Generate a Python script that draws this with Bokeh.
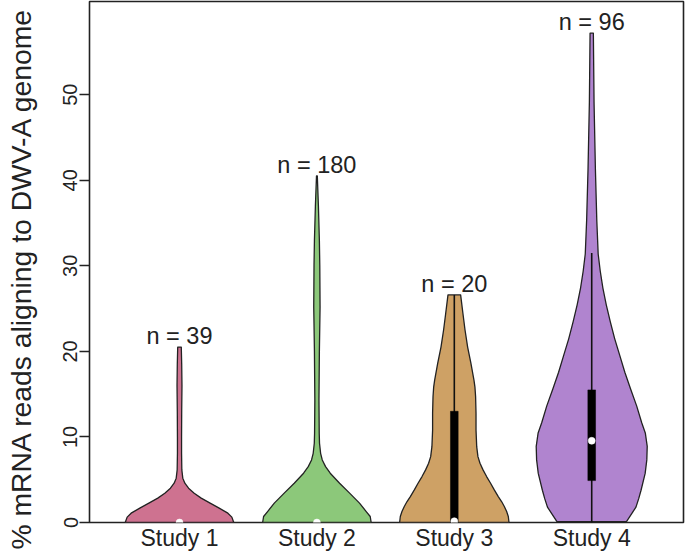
from bokeh.plotting import figure
from bokeh.models import Range1d, FixedTicker, ColumnDataSource, Title
from bokeh.core.properties import value
from bokeh.embed import file_html
from bokeh.resources import INLINE

# ---------------- data ----------------
categories = ["Study 1", "Study 2", "Study 3", "Study 4"]
counts = [39, 180, 20, 96]
colors = ["#CE7290", "#8CC87A", "#CEA165", "#B084CF"]

# violin outlines: density half-widths (x units) at levels of % reads
s1_levels = [0.0, 0.63, 1.09, 1.68, 2.26, 2.85, 3.43, 4.01, 4.6, 5.18, 6.15, 8.1, 10.0, 13.0, 16.0, 18.5, 20.5]
s1_half = [0.395, 0.381, 0.352, 0.289, 0.223, 0.158, 0.107, 0.066, 0.039, 0.024, 0.017, 0.015, 0.015, 0.016, 0.018, 0.016, 0.013]

s2_levels = [0.0, 0.7, 1.28, 2.26, 3.43, 4.59, 5.76, 6.53, 7.31, 8.09, 9.26, 10.4, 14.3, 20.0, 25.2, 30.0, 33.0, 37.0, 40.5]
s2_half = [0.395, 0.388, 0.359, 0.31, 0.238, 0.165, 0.097, 0.063, 0.039, 0.027, 0.019, 0.017, 0.015, 0.018, 0.023, 0.021, 0.018, 0.011, 0.003]

s3_levels = [0.0, 0.7, 1.28, 1.87, 2.45, 3.03, 3.81, 4.59, 5.37, 6.15, 6.92, 7.7, 8.86, 10.8, 12.76, 14.7, 15.86,
             16.64, 18.6, 20.5, 22.5, 24.4, 26.6]
s3_half = [0.398, 0.393, 0.381, 0.364, 0.344, 0.32, 0.291, 0.264, 0.235, 0.209, 0.187, 0.172, 0.163, 0.158, 0.158,
           0.155, 0.150, 0.143, 0.121, 0.097, 0.078, 0.063, 0.046]

s4_levels = [0.1, 1.0, 1.8, 2.79, 3.77, 5.74, 7.32, 8.9, 10.47, 11.66, 13.63, 15.6, 17.57, 19.54, 21.5, 23.48,
             25.45, 27.43, 29.4, 31.38, 35.3, 41.2, 49.1, 57.2]
s4_half = [0.253, 0.29, 0.322, 0.342, 0.359, 0.389, 0.401, 0.404, 0.39, 0.364, 0.327, 0.283, 0.241, 0.204, 0.167,
           0.135, 0.106, 0.081, 0.062, 0.047, 0.037, 0.027, 0.017, 0.012]

# box-plot statistics
q1 = [0.0, 0.0, 0.0, 4.9]
q3 = [0.0, 0.0, 13.0, 15.5]
medians = [0.0, 0.0, 0.15, 9.55]
whisker_lo = [0.0, 0.0, 0.0, 0.0]
whisker_hi = [0.0, 0.0, 26.6, 31.5]

y_ticks = [0, 10, 20, 30, 40, 50]
y_title = "% mRNA reads aligning to DWV-A genome"

# ---------------- figure ----------------
FONT = "Liberation Sans"
TXT = "#222222"

p = figure(width=685, height=553, output_backend="svg", toolbar_location=None,
           x_range=Range1d(0.345, 4.668), y_range=Range1d(0, 60.9),
           min_border_left=89, min_border_right=2, min_border_top=1, min_border_bottom=0)
p.xgrid.visible = False
p.ygrid.visible = False
p.background_fill_color = "white"
p.border_fill_color = "white"
p.outline_line_color = "#222222"
p.outline_line_width = 1.6

profiles = [(s1_levels, s1_half), (s2_levels, s2_half), (s3_levels, s3_half), (s4_levels, s4_half)]
xs, ys = [], []
for i, (lv, hw) in enumerate(profiles):
    c = i + 1
    xs.append([c - h for h in hw] + [c + h for h in reversed(hw)])
    ys.append(list(lv) + list(reversed(lv)))
p.patches(xs, ys, fill_color=colors, line_color="#222222", line_width=1.3, line_join="round")

pos = [1, 2, 3, 4]
# whiskers
p.segment(x0=pos, y0=whisker_lo, x1=pos, y1=whisker_hi, line_color="#111111", line_width=1.6)
# boxes
box_src = ColumnDataSource(dict(x=pos, top=q3, bottom=q1))
p.vbar(x="x", top="top", bottom="bottom", width=0.056, source=box_src,
       fill_color="black", line_color="black", line_width=0.5)
# medians
p.scatter(pos, medians, size=7, fill_color="white", line_color="white", line_width=0.5)

# n labels
label_y = [max(lv) + 1.3 for lv, _ in profiles]
label_txt = ["n = %d" % n for n in counts]
p.text(x=pos, y=label_y, text=label_txt, text_align="center", text_baseline="alphabetic",
       text_font=value(FONT), text_font_size="23.5px", text_color=TXT)

# axes
yax = p.yaxis[0]
yax.ticker = FixedTicker(ticks=y_ticks)
yax.minor_tick_line_color = None
yax.major_tick_in = 0
yax.major_tick_out = 10
yax.major_tick_line_color = "#222222"
yax.major_tick_line_width = 1.3
yax.axis_line_color = None
yax.major_label_orientation = "vertical"
yax.major_label_standoff = 2
yax.major_label_text_font = FONT
yax.major_label_text_font_size = "20px"
yax.major_label_text_color = TXT
# spacer between tick labels and the y title
yax.axis_label = " "
yax.axis_label_text_font_size = "1px"
yax.axis_label_standoff = 20

xax = p.xaxis[0]
xax.ticker = FixedTicker(ticks=pos)
xax.major_label_overrides = {i + 1: categories[i] for i in range(4)}
xax.minor_tick_line_color = None
xax.major_tick_in = 0
xax.major_tick_out = 0
xax.axis_line_color = None
xax.major_label_standoff = 2
xax.major_label_text_font = FONT
xax.major_label_text_font_size = "23px"
xax.major_label_text_color = TXT

# y-axis title (rotated) in the left panel
title = Title(text=y_title, align="left", offset=-27, standoff=0,
              text_font=FONT, text_font_size="28.3px", text_font_style="normal", text_color=TXT)
p.add_layout(title, "left")

open("out.html", "w").write(file_html(p, INLINE))
